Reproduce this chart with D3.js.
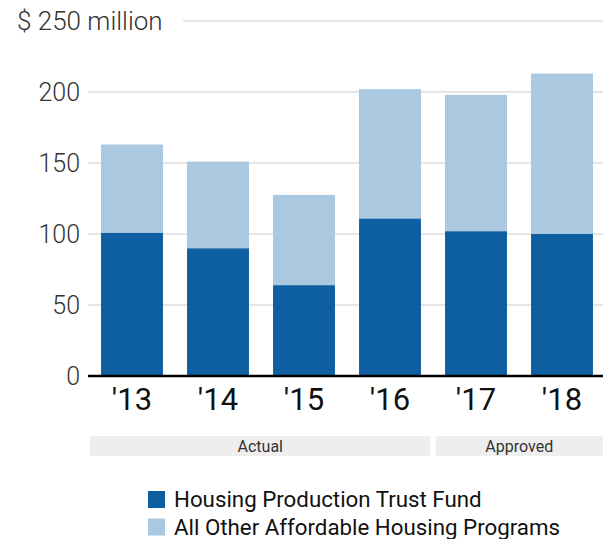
<!DOCTYPE html>
<html>
<head>
<meta charset="utf-8">
<script src="https://cdn.jsdelivr.net/npm/d3@7"></script>
<style>
  body { margin: 0; background: #fff; }
  svg { font-family: Roboto, sans-serif; }
</style>
</head>
<body>
<svg width="603" height="539"></svg>
<script>
// fiscal years and the two stacked series ($ millions)
const years = ["'13", "'14", "'15", "'16", "'17", "'18"];
const trustFund = [101, 90, 64, 111, 102, 100];
const otherPrograms = [62, 61, 63.5, 91, 96, 113];
const yTicks = [0, 50, 100, 150, 200, 250];
const groups = [
  {label: 'Actual', from: "'13", to: "'16"},
  {label: 'Approved', from: "'17", to: "'18"}
];
const seriesNames = ['Housing Production Trust Fund', 'All Other Affordable Housing Programs'];
const colors = ['#0e5fa2', '#abc8e1'];

const W = 603;
const svg = d3.select('svg');

const x = d3.scaleBand()
    .domain(years)
    .range([89, 605])
    .paddingInner(0.28)
    .paddingOuter(0.14);

const y = d3.scaleLinear()
    .domain([0, 250])
    .range([376, 21]);

// gridlines
svg.append('g')
  .selectAll('line')
  .data(yTicks.filter(d => d > 0))
  .enter()
  .append('line')
    .attr('x1', d => d === 250 ? 183 : 88)
    .attr('x2', W)
    .attr('y1', d => y(d))
    .attr('y2', d => y(d))
    .attr('stroke', '#dcdcdc')
    .attr('stroke-width', 1.5);

// y tick labels
svg.append('g')
  .selectAll('text')
  .data(yTicks)
  .enter()
  .append('text')
    .attr('x', d => d === 250 ? 17 : 80)
    .attr('y', d => y(d) + 9)
    .attr('text-anchor', d => d === 250 ? 'start' : 'end')
    .attr('font-size', d => d === 250 ? 26 : 25)
    .attr('font-weight', 300)
    .attr('fill', '#333')
    .text(d => d === 250 ? '$ 250 million' : d);

// stacked bars
const rows = years.map((yr, i) => ({year: yr, a: trustFund[i], b: otherPrograms[i]}));
const stacked = d3.stack().keys(['a', 'b'])(rows);

svg.append('g')
  .selectAll('g')
  .data(stacked)
  .enter()
  .append('g')
    .attr('fill', (d, i) => colors[i])
  .selectAll('rect')
  .data(d => d)
  .enter()
  .append('rect')
    .attr('x', d => x(d.data.year))
    .attr('width', x.bandwidth())
    .attr('y', d => y(d[1]))
    .attr('height', d => y(d[0]) - y(d[1]));

// baseline
svg.append('line')
    .attr('x1', 88).attr('x2', W)
    .attr('y1', y(0)).attr('y2', y(0))
    .attr('stroke', '#000')
    .attr('stroke-width', 2.5);

// x labels
svg.append('g')
  .selectAll('text')
  .data(years)
  .enter()
  .append('text')
    .attr('x', d => x(d) + x.bandwidth() / 2)
    .attr('y', 410)
    .attr('text-anchor', 'middle')
    .attr('font-size', 31)
    .attr('fill', '#111')
    .text(d => d);

// group bands (Actual / Approved)
const half = x.step() * x.paddingInner() / 2;
const left = (d, i) => i === 0 ? x(d.from) - 11 : x(d.from) - half + 2.5;
const right = (d, i) => i === groups.length - 1 ? W : x(d.to) + x.bandwidth() + half - 2.5;

const grp = svg.append('g')
  .selectAll('g')
  .data(groups)
  .enter()
  .append('g');

grp.append('rect')
    .attr('x', left)
    .attr('width', (d, i) => right(d, i) - left(d, i))
    .attr('y', 436)
    .attr('height', 20)
    .attr('fill', '#eeeeee');

grp.append('text')
    .attr('x', (d, i) => (left(d, i) + right(d, i)) / 2)
    .attr('y', 452)
    .attr('text-anchor', 'middle')
    .attr('font-size', 16)
    .attr('fill', '#333')
    .text(d => d.label);

// legend
const legend = svg.append('g')
  .selectAll('g')
  .data(seriesNames)
  .enter()
  .append('g')
    .attr('transform', (d, i) => `translate(148, ${491 + i * 27.5})`);

legend.append('rect')
    .attr('width', 17)
    .attr('height', 17)
    .attr('fill', (d, i) => colors[i]);

legend.append('text')
    .attr('x', 26)
    .attr('y', 16)
    .attr('font-size', 22.3)
    .attr('fill', '#111')
    .text(d => d);
</script>
</body>
</html>
